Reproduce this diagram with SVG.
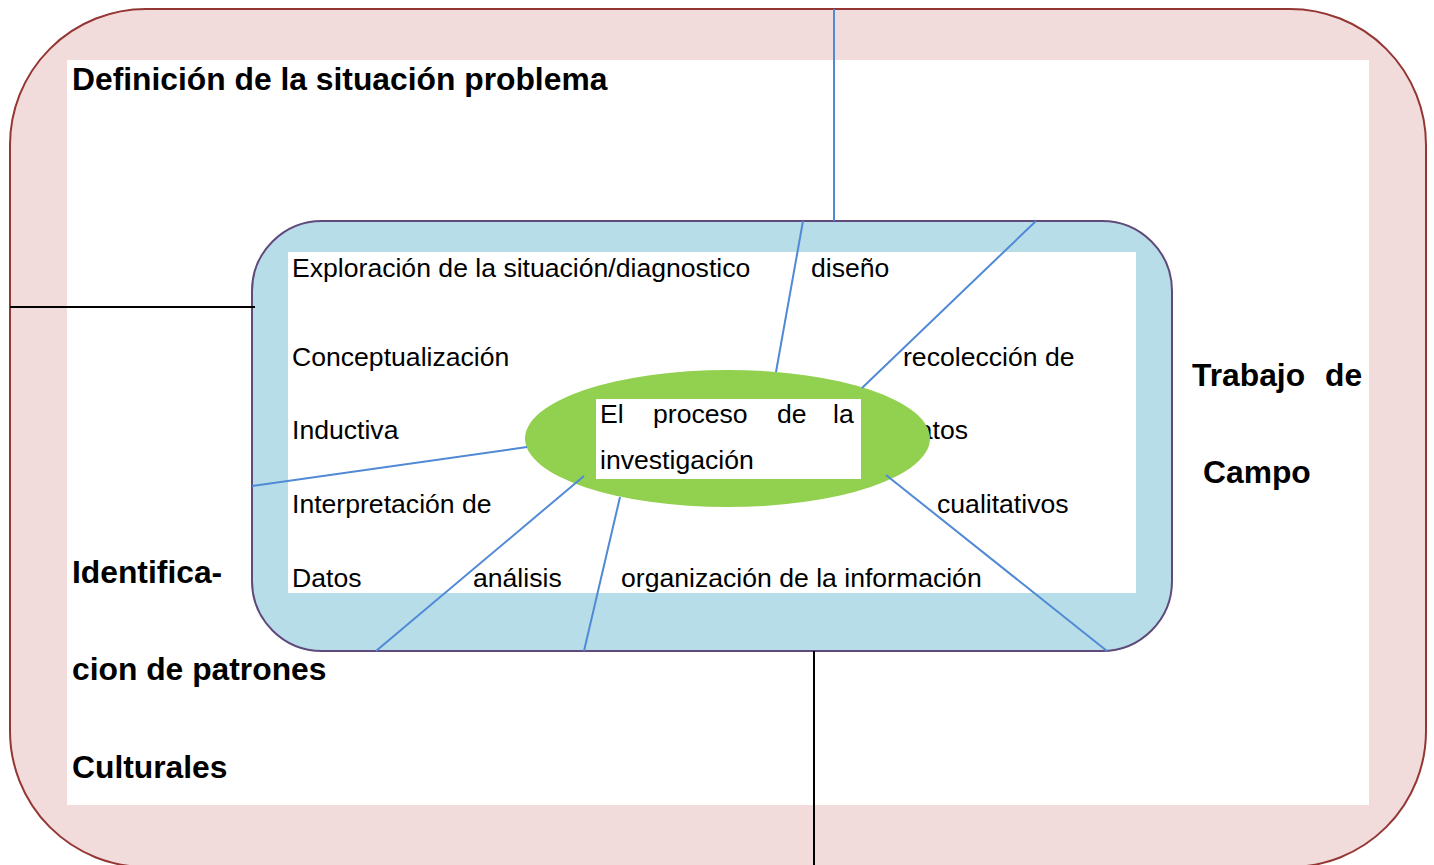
<svg xmlns="http://www.w3.org/2000/svg" width="1434" height="865" viewBox="0 0 1434 865">
<style>
text{font-family:"Liberation Sans",Arial,sans-serif;fill:#000}
.r{font-size:26.6px}
.b{font-size:31.8px;font-weight:bold}
.blue{stroke:#5089D6;stroke-width:2;fill:none}
.blk{stroke:#000;stroke-width:2;fill:none}
</style>
<rect x="0" y="0" width="1434" height="865" fill="#fff"/>
<g id="outer">
<rect x="10" y="9" width="1416" height="858" rx="136" ry="136" fill="#F2DCDB" stroke="#943634" stroke-width="2"/>
<rect x="67" y="60" width="1302" height="745" fill="#fff"/>
<text class="b" x="72" y="90">Definición de la situación problema</text>
<text class="b" x="72" y="583">Identifica-</text>
<text class="b" x="72" y="680">cion de patrones</text>
<text class="b" x="72" y="778">Culturales</text>
<text class="b" x="1192" y="386">Trabajo</text>
<text class="b" x="1325" y="386">de</text>
<text class="b" x="1203" y="483">Campo</text>
</g>
<g id="inner">
<rect x="252" y="221" width="920" height="430" rx="70" ry="70" fill="#B7DEE8" stroke="#604A7B" stroke-width="2"/>
<rect x="288" y="252" width="848" height="341" fill="#fff"/>
<text class="r" x="292" y="277">Exploración de la situación/diagnostico</text>
<text class="r" x="811" y="277">diseño</text>
<text class="r" x="292" y="366">Conceptualización</text>
<text class="r" x="903" y="366">recolección de</text>
<text class="r" x="292" y="439">Inductiva</text>
<text class="r" x="903" y="439">datos</text>
<text class="r" x="292" y="513">Interpretación de</text>
<text class="r" x="937" y="513">cualitativos</text>
<text class="r" x="292" y="587">Datos</text>
<text class="r" x="473" y="587">análisis</text>
<text class="r" x="621" y="587">organización de la información</text>
</g>
<g id="center">
<ellipse cx="727.5" cy="438.5" rx="202.5" ry="68.5" fill="#92D050"/>
<rect x="596" y="399" width="265" height="80" fill="#fff"/>
<text class="r" x="600" y="423">El</text>
<text class="r" x="653" y="423">proceso</text>
<text class="r" x="777" y="423">de</text>
<text class="r" x="833" y="423">la</text>
<text class="r" x="600" y="469">investigación</text>
</g>
<g id="connectors">
<line class="blue" x1="834" y1="9" x2="834" y2="221"/>
<line class="blue" x1="776" y1="372" x2="803" y2="221"/>
<line class="blue" x1="862" y1="388" x2="1036" y2="221"/>
<line class="blue" x1="527" y1="447" x2="252" y2="486"/>
<line class="blue" x1="584" y1="476" x2="376" y2="651"/>
<line class="blue" x1="620" y1="497" x2="584" y2="651"/>
<line class="blue" x1="886" y1="475" x2="1107" y2="651"/>
<line class="blk" x1="10" y1="307" x2="255" y2="307"/>
<line class="blk" x1="814" y1="651" x2="814" y2="865"/>
</g>
</svg>
